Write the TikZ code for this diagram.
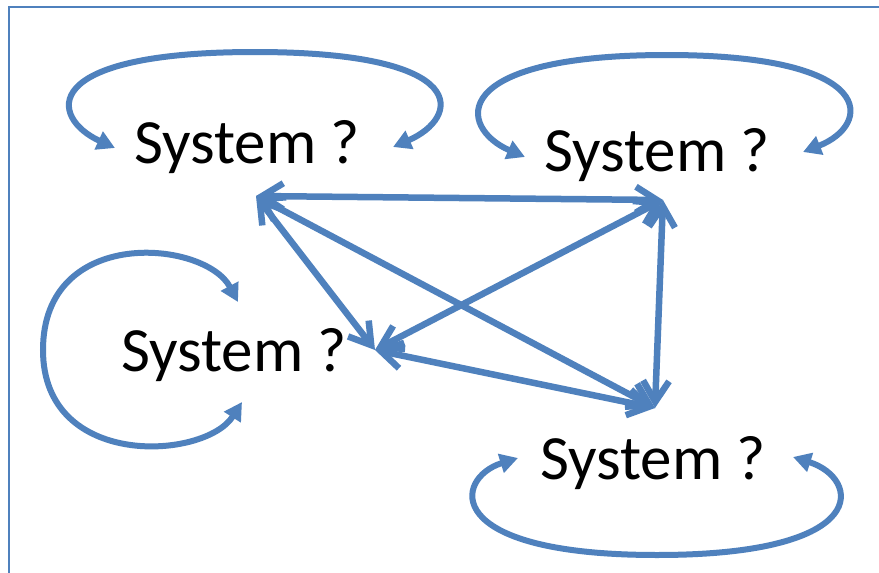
\documentclass[tikz,border=0pt]{standalone}
\usepackage{fontspec}
\setmainfont{Carlito}
\usetikzlibrary{arrows.meta}
\definecolor{accent}{HTML}{4F81BD}
\begin{document}
\begin{tikzpicture}[x=1pt,y=-1pt,
  lbl/.style={font=\fontsize{63}{75}\selectfont, anchor=base, inner sep=0pt, text=black},
  conn/.style={draw=accent, line width=6.5pt, line cap=round,
    {Straight Barb[length=21pt,width=26pt]}-{Straight Barb[length=21pt,width=26pt]}},
  selfloop/.style={draw=accent, line width=6pt,
    {Triangle[length=18pt,width=19pt]}-{Triangle[length=18pt,width=19pt]}},
  frameline/.style={draw=accent, line width=2.5pt}]
\useasboundingbox (0,0) rectangle (879,573);
\fill[white] (0,0) rectangle (879,573);
\draw[frameline] (9,573) -- (9,7) -- (879,7);

% labels
\node[lbl] (s1) at (247,163) {System ?};
\node[lbl] (s2) at (657,171) {System ?};
\node[lbl] (s3) at (234,371) {System ?};
\node[lbl] (s4) at (653,479) {System ?};

% hubs of the connectors
\coordinate (A) at (256,196);
\coordinate (B) at (663,200);
\coordinate (C) at (375,350);
\coordinate (D) at (655,408);

\draw[conn] (A) -- (B);
\draw[conn] (A) -- (C);
\draw[conn] (A) -- (D);
\draw[conn] (B) -- (C);
\draw[conn] (B) -- (D);
\draw[conn] (C) -- (D);

% self loops
\coordinate (l1a) at (115,148);
\coordinate (l1b) at (393,147);
\draw[selfloop] (l1a) .. controls (50,118) and (35,52) .. (255,52)
  .. controls (475,52) and (460,118) .. (l1b);

\coordinate (l2a) at (525,157);
\coordinate (l2b) at (803,152);
\draw[selfloop] (l2a) .. controls (458,128) and (445,55) .. (667,55)
  .. controls (880,55) and (872,125) .. (l2b);

\coordinate (l3a) at (238,302);
\coordinate (l3b) at (242,402);
\draw[selfloop] (l3a) .. controls (205,240) and (43,225) .. (43,350)
  .. controls (43,470) and (205,460) .. (l3b);

\coordinate (l4a) at (518,458);
\coordinate (l4b) at (793,457);
\draw[selfloop] (l4a) .. controls (454,478) and (439,555) .. (657,555)
  .. controls (875,555) and (860,478) .. (l4b);
\end{tikzpicture}
\end{document}
